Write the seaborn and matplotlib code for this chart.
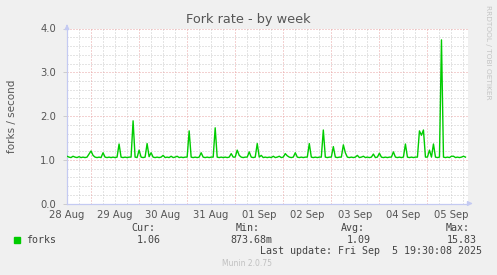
import matplotlib
matplotlib.use("Agg")
import matplotlib.pyplot as plt
import matplotlib.dates as mdates
from matplotlib.ticker import MultipleLocator, FixedLocator
import numpy as np
import pandas as pd
import seaborn as sns

# ---- data (hourly samples, forks / second) ----
start_time = "2025-08-28 12:00"
day0 = [1.08, 1.06, 1.05, 1.08, 1.06, 1.05, 1.07, 1.05, 1.06, 1.05, 1.06, 1.13,
        1.20, 1.10, 1.06, 1.05, 1.06, 1.05, 1.16, 1.06, 1.05, 1.06, 1.05, 1.06]
day1 = [1.05, 1.06, 1.36, 1.06, 1.05, 1.06, 1.05, 1.06, 1.06, 1.89, 1.06, 1.05,
        1.22, 1.06, 1.05, 1.06, 1.37, 1.07, 1.16, 1.06, 1.05, 1.06, 1.05, 1.06]
day2 = [1.10, 1.05, 1.06, 1.05, 1.08, 1.05, 1.06, 1.08, 1.05, 1.06, 1.05, 1.06,
        1.06, 1.66, 1.06, 1.05, 1.06, 1.05, 1.06, 1.16, 1.06, 1.05, 1.06, 1.05]
day3 = [1.06, 1.06, 1.73, 1.06, 1.05, 1.06, 1.05, 1.06, 1.05, 1.06, 1.14, 1.06,
        1.06, 1.22, 1.10, 1.06, 1.05, 1.06, 1.06, 1.18, 1.06, 1.05, 1.06, 1.37]
day4 = [1.06, 1.10, 1.05, 1.06, 1.05, 1.06, 1.05, 1.08, 1.05, 1.06, 1.08, 1.05,
        1.06, 1.14, 1.09, 1.06, 1.05, 1.06, 1.16, 1.06, 1.05, 1.06, 1.05, 1.06]
day5 = [1.06, 1.37, 1.06, 1.05, 1.06, 1.05, 1.06, 1.06, 1.68, 1.06, 1.05, 1.06,
        1.06, 1.30, 1.06, 1.05, 1.06, 1.06, 1.34, 1.16, 1.06, 1.05, 1.06, 1.05]
day6 = [1.06, 1.10, 1.05, 1.06, 1.08, 1.05, 1.06, 1.05, 1.06, 1.13, 1.05, 1.06,
        1.15, 1.06, 1.05, 1.06, 1.05, 1.06, 1.06, 1.18, 1.06, 1.05, 1.06, 1.05]
day7 = [1.06, 1.36, 1.06, 1.05, 1.06, 1.05, 1.06, 1.06, 1.66, 1.56, 1.68, 1.06,
        1.06, 1.22, 1.06, 1.36, 1.06, 1.05, 1.06, 3.74, 1.06, 1.05, 1.06, 1.05]
day8 = [1.08, 1.08, 1.05, 1.06, 1.05, 1.06, 1.08, 1.06]

values = day0 + day1 + day2 + day3 + day4 + day5 + day6 + day7 + day8
times = pd.date_range(start_time, periods=len(values), freq="h")
df = pd.DataFrame({"time": times, "forks": values})

stat_labels = ["Cur:", "Min:", "Avg:", "Max:"]
stat_values = ["1.06", "873.68m", "1.09", "15.83"]
series_name = "forks"
title = "Fork rate - by week"
ylabel = "forks / second"
last_update = "Last update: Fri Sep  5 19:30:08 2025"

# ---- figure ----
W, H = 497, 275
fig = plt.figure(figsize=(W / 100, H / 100), dpi=100, facecolor="#F0F0F0")

def fx(px):
    return px / W

def fy(py):
    return 1 - py / H

ax = fig.add_axes([fx(67), fy(203.5), fx(467.5) - fx(67), fy(28.5) - fy(203.5)])
ax.set_facecolor("white")

x0 = pd.Timestamp(start_time)
x1 = x0 + pd.Timedelta(hours=200)

# grid
minor_c = "#CACACA"
major_c = "#E8A4A4"
dot = (0, (1, 2))
glw = 0.72
for t in pd.date_range(x0.floor("D"), x1, freq="6h"):
    if x0 < t < x1 and t.hour != 0:
        ax.axvline(t, color=minor_c, lw=glw, ls=dot, zorder=0)
for t in pd.date_range(x0.ceil("D"), x1, freq="D"):
    ax.axvline(t, color=major_c, lw=glw, ls=dot, zorder=0.5)
for v in np.arange(0.2, 4.0, 0.2):
    if abs(v - round(v)) > 1e-6:
        ax.axhline(v, color=minor_c, lw=glw, ls=dot, zorder=0)
for v in [1, 2, 3, 4]:
    ax.axhline(v, color=major_c, lw=glw, ls=dot, zorder=0.5)

sns.lineplot(data=df, x="time", y="forks", ax=ax, color="#00CC00",
             linewidth=1.0, legend=False, zorder=3)

ax.set_xlim(x0, x1)
ax.set_ylim(0, 4.0)
ax.set_xlabel("")
ax.set_ylabel("")

label_times = pd.date_range(x0, x1, freq="D")
ax.xaxis.set_major_locator(FixedLocator(mdates.date2num(label_times)))
ax.xaxis.set_major_formatter(mdates.DateFormatter("%d %b"))
ax.yaxis.set_major_locator(MultipleLocator(1.0))
ax.yaxis.set_major_formatter(matplotlib.ticker.FormatStrFormatter("%.1f"))
ax.tick_params(axis="x", length=0, labelsize=7.2, labelcolor="#555555", pad=4.5)
ax.tick_params(axis="y", length=3, width=0.7, color="#CCCCCC", direction="out",
               labelsize=7.2, labelcolor="#555555", pad=5)

for s in ["top", "right"]:
    ax.spines[s].set_visible(False)
axis_c = "#C4CAF2"
for s in ["left", "bottom"]:
    ax.spines[s].set_color(axis_c)
    ax.spines[s].set_linewidth(0.9)

ax.annotate("", xy=(0, 1.04), xytext=(0, 1.0), xycoords="axes fraction",
            arrowprops=dict(arrowstyle="-|>", color=axis_c, lw=0.9,
                            mutation_scale=7), annotation_clip=False)
ax.annotate("", xy=(1.02, 0), xytext=(1.0, 0), xycoords="axes fraction",
            arrowprops=dict(arrowstyle="-|>", color=axis_c, lw=0.9,
                            mutation_scale=7), annotation_clip=False)

# texts
fig.text(fx(248.5), fy(19), title, ha="center", va="center",
         fontsize=9.3, color="#555555")
fig.text(fx(12), fy(116), ylabel, ha="center", va="center", rotation=90,
         fontsize=7.5, color="#555555")
fig.text(fx(488), fy(5), "RRDTOOL / TOBI OETIKER", ha="center", va="top",
         rotation=270, fontsize=5.3, color="#C4C4C4")

mono = "DejaVu Sans Mono"
fs = 7.2
txt_c = "#444444"
label_right = [155, 259.5, 365, 470]
value_right = [161, 272.7, 371, 476.7]
for lab, xr in zip(stat_labels, label_right):
    fig.text(fx(xr), fy(228), lab, ha="right", va="center", family=mono,
             fontsize=fs, color=txt_c)
for val, xr in zip(stat_values, value_right):
    fig.text(fx(xr), fy(240), val, ha="right", va="center", family=mono,
             fontsize=fs, color=txt_c)
fig.text(fx(26.5), fy(240), series_name, ha="left", va="center", family=mono,
         fontsize=fs, color=txt_c)
fig.patches.append(plt.Rectangle((fx(14), fy(243)), fx(6), fy(237) - fy(243),
                                 transform=fig.transFigure, color="#00CC00"))
fig.text(fx(482.5), fy(251.5), last_update, ha="right", va="center",
         family=mono, fontsize=fs, color=txt_c)
fig.text(fx(247.5), fy(264), "Munin 2.0.75", ha="center", va="center",
         fontsize=5.5, color="#C0C0C0")

fig.savefig("out.png", dpi=100, facecolor=fig.get_facecolor())
